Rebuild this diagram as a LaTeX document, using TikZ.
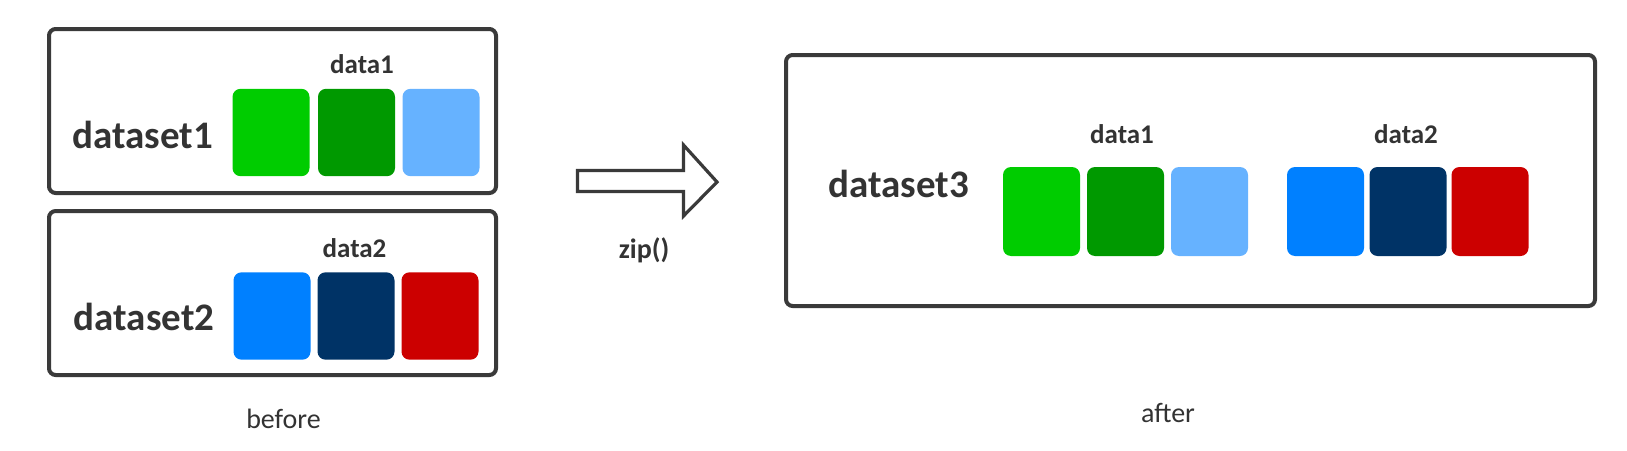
\documentclass[tikz,border=0pt]{standalone}
\usepackage{fontspec}
\setmainfont{Carlito}
\definecolor{txt}{HTML}{333333}
\definecolor{frame}{HTML}{3A3A3A}
\definecolor{cA}{HTML}{00CC00}
\definecolor{cB}{HTML}{009900}
\definecolor{cC}{HTML}{66B2FF}
\definecolor{cD}{HTML}{0080FF}
\definecolor{cE}{HTML}{003366}
\definecolor{cF}{HTML}{CC0000}
\tikzset{
  panel/.style={draw=frame, line width=3pt, rounded corners=5pt, inner sep=0pt},
  cell/.style={rounded corners=6pt, inner sep=0pt, minimum width=57.75pt, minimum height=65.5pt},
  bigtxt/.style={text=txt, font=\bfseries\fontsize{29.25pt}{30pt}\selectfont, anchor=base, inner sep=0pt},
  smalltxt/.style={text=txt, font=\bfseries\fontsize{20.25pt}{21pt}\selectfont, anchor=base, inner sep=0pt},
  captxt/.style={text=txt, font=\fontsize{21pt}{22pt}\selectfont, anchor=base, inner sep=0pt},
}
\begin{document}
\begin{tikzpicture}[x=0.75pt, y=-0.75pt]
\useasboundingbox (0,0) rectangle (1627,450);
% panels
\node[panel, minimum width=335.25pt, minimum height=123pt] (p1) at (272.5,111) {};
\node[panel, minimum width=335.25pt, minimum height=123pt] (p2) at (272.5,293) {};
\node[panel, minimum width=606.75pt, minimum height=188.25pt] (p3) at (1190.5,180.5) {};
% cells dataset1
\node[cell, fill=cA] (a1) at (271,132.5) {};
\node[cell, fill=cB] (a2) at (356.5,132.5) {};
\node[cell, fill=cC] (a3) at (441,132.5) {};
% cells dataset2
\node[cell, fill=cD] (b1) at (272,316) {};
\node[cell, fill=cE] (b2) at (356,316) {};
\node[cell, fill=cF] (b3) at (440,316) {};
% cells dataset3
\node[cell, fill=cA, minimum height=66.75pt] (c1) at (1041.5,211.5) {};
\node[cell, fill=cB, minimum height=66.75pt] (c2) at (1125.5,211.5) {};
\node[cell, fill=cC, minimum height=66.75pt] (c3) at (1209.5,211.5) {};
\node[cell, fill=cD, minimum height=66.75pt] (c4) at (1325.5,211.5) {};
\node[cell, fill=cE, minimum height=66.75pt] (c5) at (1408,211.5) {};
\node[cell, fill=cF, minimum height=66.75pt] (c6) at (1490,211.5) {};
% texts
\node[bigtxt] (t1) at (142.5,148) {dataset1};
\node[bigtxt] (t2) at (144,330) {dataset2};
\node[bigtxt] (t3) at (898.5,197) {dataset3};
\node[smalltxt] (l1) at (362,73) {data1};
\node[smalltxt] (l2) at (354.5,257) {data2};
\node[smalltxt] (l3) at (1122,143) {data1};
\node[smalltxt] (l4) at (1406,143) {data2};
\node[smalltxt, font=\bfseries\fontsize{21pt}{22pt}\selectfont] (zip) at (644,258) {zip()};
\node[captxt] (bef) at (283.5,428) {before};
\node[captxt] (aft) at (1168,422) {after};
% arrow
\draw[draw=frame, fill=white, line width=2.4pt, line join=miter]
  (577.5,170.5) -- (683.5,170.5) -- (683.5,145) -- (717,182) -- (683.5,216)
  -- (683.5,191.5) -- (577.5,191.5) -- cycle;
\end{tikzpicture}
\end{document}
